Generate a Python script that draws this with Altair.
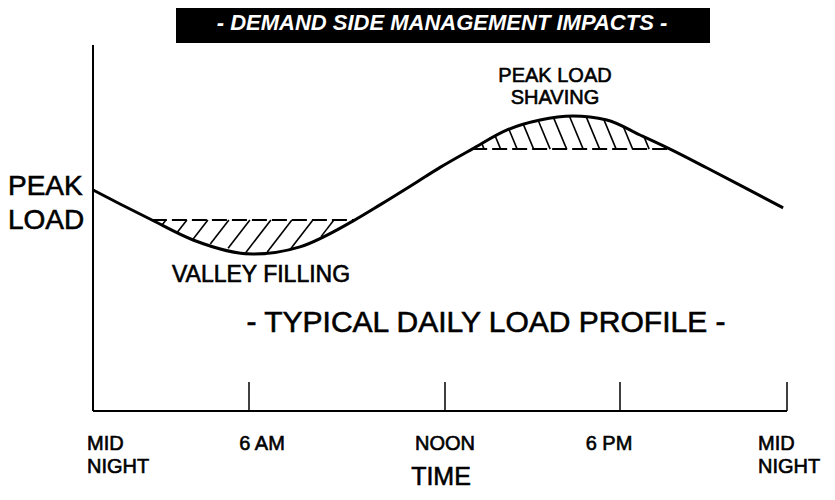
import altair as alt
import numpy as np
import pandas as pd

# ---------------- data ----------------
hours = [0, 1.04, 2.19, 3.85, 6.12, 7.56, 9.18, 10.01, 11.02, 11.85, 12.93,
         14.13, 15.26, 16.39, 17.55, 18.72, 19.80, 21.13, 22.31, 23.86]
load = [73.7, 69.0, 64.0, 57.0, 52.3, 54.7, 63.3, 68.7, 75.5, 81.2, 87.3,
        93.7, 97.0, 98.3, 97.0, 92.0, 87.3, 81.0, 75.3, 67.7]
valley_level = 63.7
peak_level = 87.3
tick_hours = [0, 6, 12, 18, 24]
tick_labels = ["MID\nNIGHT", "6 AM", "NOON", "6 PM", "MID\nNIGHT"]
axis_top = 122
tick_len = 9.7

TITLE = "- DEMAND SIDE MANAGEMENT IMPACTS -"
SUBTITLE = "- TYPICAL DAILY LOAD PROFILE -"

# ---------------- layout / style ----------------
W, H = 819, 484
X_DOM = [0, 6, 12, 18, 24]
X_RNG = [85, 241, 437, 612, 779]
Y_DOM = [0, 100]
Y_RNG = [403, 103]
FONT = "Liberation Sans"
label_nudge = [-6, 13, 0, -11, -29]
label_align = ["left", "center", "center", "center", "left"]
TXT_STROKE = 0.6

XS = alt.Scale(domain=X_DOM, range=X_RNG, nice=False, zero=False)
YS = alt.Scale(domain=Y_DOM, range=Y_RNG, nice=False, zero=False)


def to_px(h):
    return np.interp(h, X_DOM, X_RNG)


def to_h(px):
    px = float(px)
    if px < X_RNG[0]:
        s = (X_RNG[1] - X_RNG[0]) / (X_DOM[1] - X_DOM[0])
        return X_DOM[0] + (px - X_RNG[0]) / s
    if px > X_RNG[-1]:
        s = (X_RNG[-1] - X_RNG[-2]) / (X_DOM[-1] - X_DOM[-2])
        return X_DOM[-1] + (px - X_RNG[-1]) / s
    return float(np.interp(px, X_RNG, X_DOM))


def to_py(v):
    return Y_RNG[0] + (v - Y_DOM[0]) * (Y_RNG[1] - Y_RNG[0]) / (Y_DOM[1] - Y_DOM[0])


def to_l(py):
    return Y_DOM[0] + (py - Y_RNG[0]) * (Y_DOM[1] - Y_DOM[0]) / (Y_RNG[1] - Y_RNG[0])


cx = to_px(np.array(hours))
cy = to_py(np.array(load))


def curve_y(px):
    return np.interp(px, cx, cy)


dense = np.linspace(cx[0], cx[-1], 6000)
dy = curve_y(dense)
noon_px = to_px(12)

# valley region
Yv = to_py(valley_level)
m = (dy > Yv) & (dense < noon_px)
vL, vR = dense[m][0], dense[m][-1]
# peak region
Yp = to_py(peak_level)
m = (dy < Yp) & (dense > noon_px)
pL, pR = dense[m][0], dense[m][-1]

segs = []
t = np.linspace(0, 120, 4000)
for x0 in np.arange(vL + 14, vR - 2, 21):
    xs = x0 - t
    ys = Yv + 1.3 * t
    hit = np.nonzero(ys >= curve_y(xs))[0]
    if len(hit):
        i = hit[0]
        segs.append(dict(h=to_h(x0), l=valley_level, h2=to_h(xs[i]), l2=float(to_l(ys[i]))))
for x0 in np.arange(pL + 12, pR - 2, 16.5):
    xs = x0 - t
    ys = Yp - 2.4 * t
    hit = np.nonzero(ys <= curve_y(xs))[0]
    if len(hit):
        i = hit[0]
        segs.append(dict(h=to_h(x0), l=peak_level, h2=to_h(xs[i]), l2=float(to_l(ys[i]))))
hatch_df = pd.DataFrame(segs)

levels_df = pd.DataFrame([
    dict(h=to_h(vL), h2=to_h(vR), l=valley_level),
    dict(h=to_h(pL), h2=to_h(pR), l=peak_level),
])

curve_df = pd.DataFrame({"h": hours, "l": load})

axis_df = pd.DataFrame([
    dict(h=0, h2=0, l=0, l2=axis_top),
    dict(h=0, h2=24, l=0, l2=0),
])
ticks_df = pd.DataFrame({"h": tick_hours[1:], "l": 0, "l2": tick_len})

lab_df = pd.DataFrame({
    "label": tick_labels,
    "h": [to_h(to_px(th) + n) for th, n in zip(tick_hours, label_nudge)],
    "align": label_align,
})
lab_df["l"] = 0

one = pd.DataFrame({"a": [0]})


def X(f):
    return alt.X(f, type="quantitative", scale=XS, axis=None)


def Y(f):
    return alt.Y(f, type="quantitative", scale=YS, axis=None)


layers = []

# title box
layers.append(alt.Chart(one).mark_rect(color="black").encode(
    x=alt.value(168), x2=alt.value(702), y=alt.value(0), y2=alt.value(35)))
layers.append(alt.Chart(one).mark_text(
    font=FONT, fontSize=22, fontWeight="bold", fontStyle="italic", color="white",
    align="center", baseline="middle").encode(
    x=alt.value(434), y=alt.value(15), text=alt.value(TITLE)))

# axes
layers.append(alt.Chart(axis_df).mark_rule(color="black", strokeWidth=2).encode(
    x=X("h"), x2="h2", y=Y("l"), y2="l2"))
layers.append(alt.Chart(ticks_df).mark_rule(color="black", strokeWidth=1.5).encode(
    x=X("h"), y=Y("l"), y2="l2"))

# hatching
layers.append(alt.Chart(hatch_df).mark_rule(color="black", strokeWidth=1.6).encode(
    x=X("h"), x2="h2", y=Y("l"), y2="l2"))
layers.append(alt.Chart(levels_df).mark_rule(color="black", strokeWidth=2, strokeDash=[15, 5]).encode(
    x=X("h"), x2="h2", y=Y("l")))

# load curve
layers.append(alt.Chart(curve_df).mark_line(color="black", strokeWidth=3, interpolate="monotone").encode(
    x=X("h"), y=Y("l")))

# tick labels
for al in ["left", "center"]:
    layers.append(alt.Chart(lab_df[lab_df["align"] == al]).mark_text(
        font=FONT, fontSize=20, align=al, baseline="alphabetic", lineBreak="\n",
        lineHeight=23, dy=39, color="black", stroke="black", strokeWidth=TXT_STROKE).encode(
        x=X("h"), y=Y("l"), text="label:N"))

# annotations


def note(txt, x, y, size, align="center", lh=None):
    kw = dict(font=FONT, fontSize=size, align=align, baseline="alphabetic", color="black",
              stroke="black", strokeWidth=TXT_STROKE)
    if lh:
        kw.update(lineBreak="\n", lineHeight=lh)
    return alt.Chart(one).mark_text(**kw).encode(
        x=alt.value(x), y=alt.value(y), text=alt.value(txt))


layers.append(note("PEAK\nLOAD", 0, 187, 28, align="left", lh=34))
layers.append(note("VALLEY FILLING", 253, 274, 23))
layers.append(note("PEAK LOAD\nSHAVING", 547, 74, 20, lh=22))
layers.append(note(SUBTITLE, 478, 324, 30))
layers.append(note("TIME", 433, 477, 25))

chart = alt.layer(*layers).properties(
    width=W, height=H, autosize=alt.AutoSizeParams(type="none"), padding=0,
    background="white",
).configure_view(stroke=None)

chart.save("out.html", embed_options={"renderer": "svg", "actions": False})
